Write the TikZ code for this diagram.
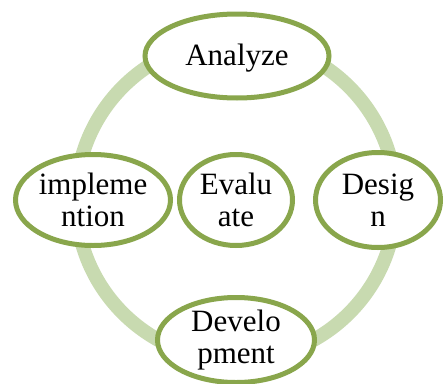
\documentclass[tikz,border=0pt]{standalone}
\usepackage{fontspec}
\setmainfont{Liberation Serif}
\usetikzlibrary{shapes.geometric}

\definecolor{ringgreen}{RGB}{200,218,176}
\definecolor{stagegreen}{RGB}{137,166,76}

\tikzset{
  stage/.style={ellipse,draw=stagegreen,line width=5pt,fill=white,
    inner sep=0pt,align=center,font=\fontsize{31}{32}\selectfont}
}

\begin{document}
\begin{tikzpicture}[x=1pt,y=-1pt]
\useasboundingbox (0,0) rectangle (444,383);

% the cycle behind the stages
\draw[color=ringgreen,line width=14pt] (236,200) circle[radius=160];

\node[stage,minimum width=184pt,minimum height=84pt,text height=25pt] (analyze) at (237,56) {Analyze};
\node[stage,minimum width=125pt,minimum height=95pt] (design) at (378,200) {Desig\\n};
\node[stage,minimum width=157pt,minimum height=80pt] (develop) at (236,340) {Develo\\pment};
\node[stage,minimum width=155pt,minimum height=91pt] (implement) at (93,200) {impleme\\ntion};
\node[stage,minimum width=113pt,minimum height=91pt] (evaluate) at (236,200) {Evalu\\ate};

\end{tikzpicture}
\end{document}
